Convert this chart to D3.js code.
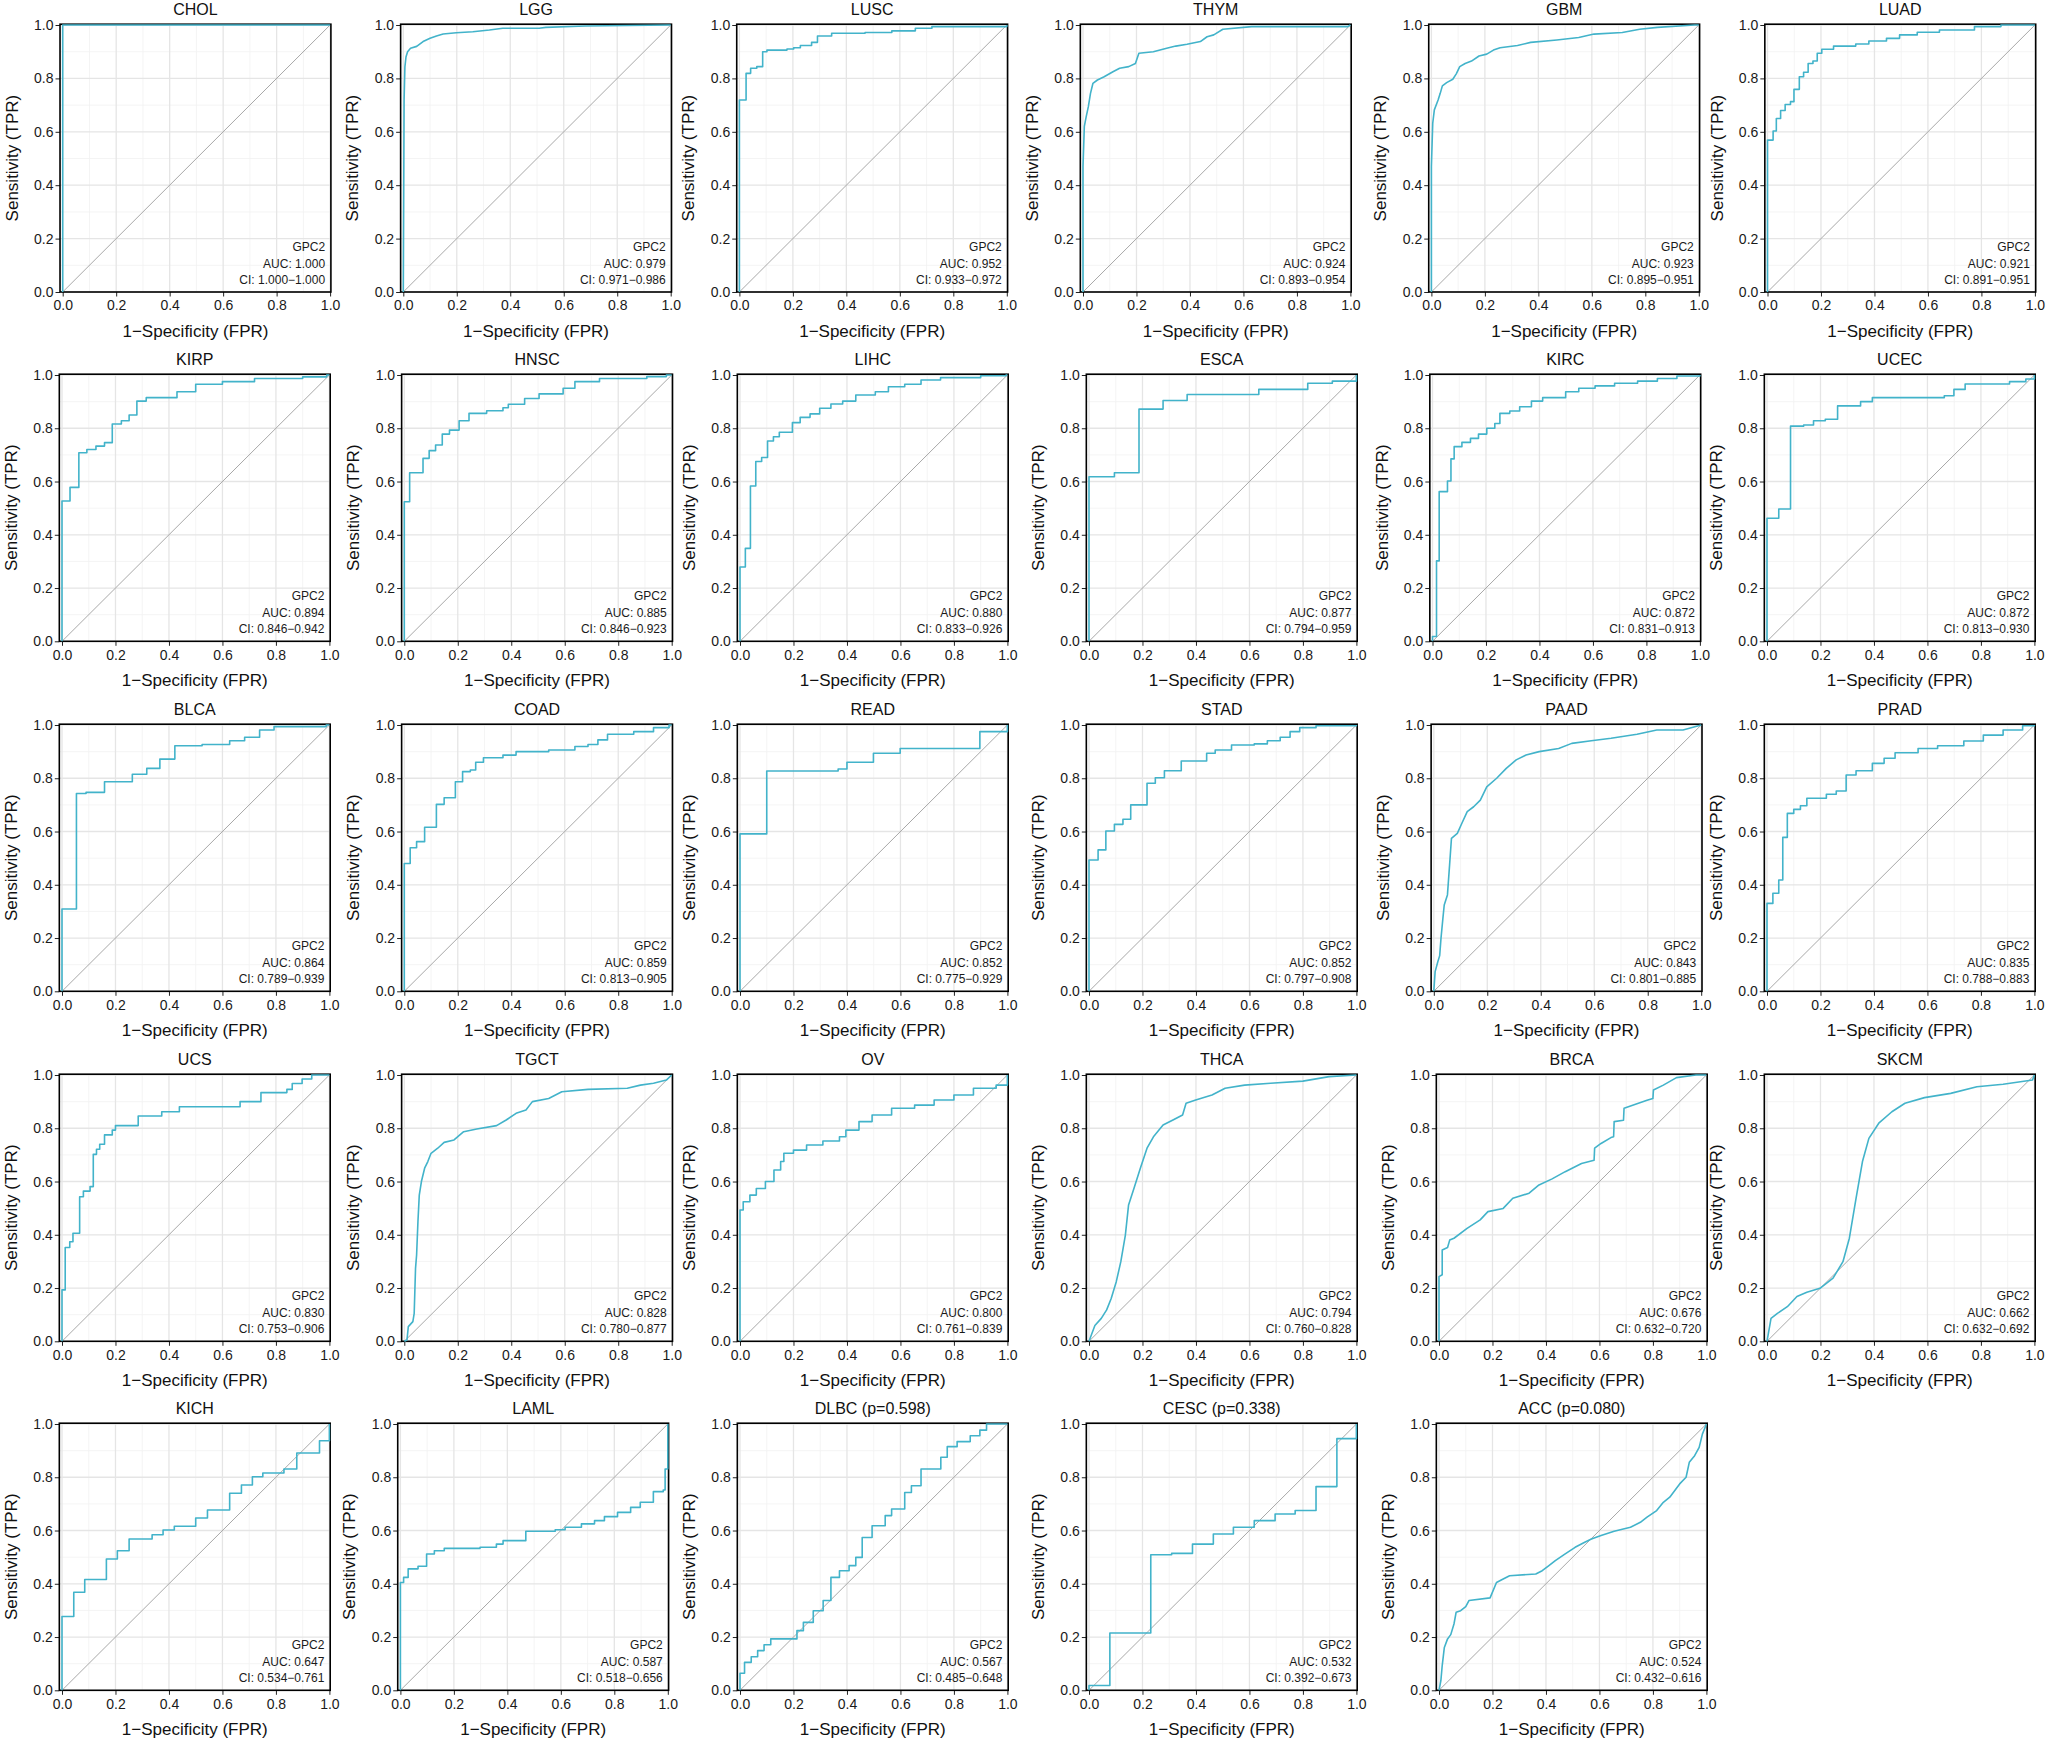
<!DOCTYPE html>
<html><head><meta charset="utf-8">
<script src="https://cdn.jsdelivr.net/npm/d3@7"></script>
<style>
body{margin:0;background:#fff}
svg{display:block}
text{font-family:"Liberation Sans",Arial,Helvetica,sans-serif}
</style>
</head><body>
<svg id="chart" width="2047" height="1739"></svg>
<script>
// ---------------- DATA ----------------
const cancers = ["CHOL","LGG","LUSC","THYM","GBM","LUAD",
                 "KIRP","HNSC","LIHC","ESCA","KIRC","UCEC",
                 "BLCA","COAD","READ","STAD","PAAD","PRAD",
                 "UCS","TGCT","OV","THCA","BRCA","SKCM",
                 "KICH","LAML","DLBC","CESC","ACC"];
const pCancers = ["DLBC","CESC","ACC"];
const pValues = ["0.598","0.338","0.080"];
const geneName = "GPC2";
const aucValues = [1.000,0.979,0.952,0.924,0.923,0.921,
                   0.894,0.885,0.880,0.877,0.872,0.872,
                   0.864,0.859,0.852,0.852,0.843,0.835,
                   0.830,0.828,0.800,0.794,0.676,0.662,
                   0.647,0.587,0.567,0.532,0.524];
const ciLower = [1.000,0.971,0.933,0.893,0.895,0.891,
                 0.846,0.846,0.833,0.794,0.831,0.813,
                 0.789,0.813,0.775,0.797,0.801,0.788,
                 0.753,0.780,0.761,0.760,0.632,0.632,
                 0.534,0.518,0.485,0.392,0.432];
const ciUpper = [1.000,0.986,0.972,0.954,0.951,0.951,
                 0.942,0.923,0.926,0.959,0.913,0.930,
                 0.939,0.905,0.929,0.908,0.885,0.883,
                 0.906,0.877,0.839,0.828,0.720,0.692,
                 0.761,0.656,0.648,0.673,0.616];
const tickValues = [0,0.2,0.4,0.6,0.8,1.0];
const minorValues = [0.1,0.3,0.5,0.7,0.9];

// ROC curves: [FPR, TPR]
const roc_CHOL = [[0,0],[0,1],[1,1]];
const roc_LGG = [[0,0],[0.003,0.72],[0.006,0.843],[0.01,0.88],[0.016,0.9],[0.027,0.913],[0.05,0.92],[0.074,0.938],[0.1,0.95],[0.124,0.959],[0.149,0.966],[0.198,0.971],[0.26,0.975],[0.322,0.981],[0.372,0.988],[0.508,0.988],[0.533,0.991],[0.68,0.996],[1,1]];
const roc_LUSC = [[0,0],[0,0.719],[0.025,0.819],[0.042,0.838],[0.065,0.844],[0.087,0.9],[0.103,0.906],[0.178,0.91],[0.203,0.915],[0.228,0.923],[0.27,0.935],[0.292,0.959],[0.345,0.969],[0.47,0.972],[0.57,0.978],[0.658,0.988],[0.72,0.994],[1,1]];
const roc_THYM = [[0,0],[0,0.47],[0.005,0.62],[0.012,0.657],[0.02,0.694],[0.028,0.744],[0.037,0.781],[0.054,0.794],[0.079,0.806],[0.112,0.825],[0.137,0.838],[0.171,0.844],[0.196,0.856],[0.209,0.894],[0.263,0.9],[0.313,0.913],[0.347,0.921],[0.389,0.928],[0.439,0.938],[0.464,0.956],[0.489,0.963],[0.523,0.984],[0.631,0.994],[0.99,0.994],[1,1]];
const roc_GBM = [[0,0],[0,0.47],[0.005,0.632],[0.011,0.682],[0.025,0.719],[0.033,0.744],[0.041,0.772],[0.057,0.784],[0.08,0.797],[0.093,0.817],[0.106,0.844],[0.126,0.856],[0.15,0.865],[0.178,0.884],[0.207,0.891],[0.232,0.906],[0.257,0.915],[0.322,0.923],[0.371,0.935],[0.469,0.944],[0.551,0.953],[0.608,0.966],[0.714,0.972],[0.779,0.984],[0.845,0.991],[0.984,1],[1,1]];
const roc_LUAD = [[0,0],[0,0.569],[0.021,0.603],[0.033,0.65],[0.049,0.68],[0.066,0.702],[0.086,0.713],[0.099,0.759],[0.119,0.806],[0.135,0.823],[0.152,0.856],[0.17,0.865],[0.186,0.894],[0.203,0.909],[0.247,0.921],[0.33,0.929],[0.379,0.94],[0.445,0.95],[0.494,0.963],[0.56,0.973],[0.643,0.981],[0.774,0.994],[0.873,1],[1,1]];
const roc_KIRP = [[0,0],[0,0.527],[0.03,0.578],[0.063,0.708],[0.093,0.72],[0.127,0.733],[0.159,0.746],[0.188,0.816],[0.222,0.828],[0.251,0.85],[0.28,0.902],[0.315,0.915],[0.43,0.937],[0.5,0.965],[0.6,0.975],[0.72,0.987],[0.9,0.993],[0.99,1],[1,1]];
const roc_HNSC = [[0,0],[0,0.524],[0.02,0.633],[0.07,0.687],[0.093,0.716],[0.117,0.737],[0.142,0.778],[0.169,0.793],[0.205,0.828],[0.242,0.856],[0.308,0.866],[0.369,0.877],[0.389,0.89],[0.45,0.912],[0.504,0.929],[0.594,0.95],[0.638,0.975],[0.73,0.987],[0.907,0.994],[0.98,1],[1,1]];
const roc_LIHC = [[0,0],[0,0.279],[0.02,0.349],[0.039,0.583],[0.059,0.675],[0.081,0.69],[0.103,0.752],[0.125,0.768],[0.147,0.785],[0.196,0.821],[0.225,0.841],[0.262,0.854],[0.298,0.875],[0.34,0.891],[0.384,0.902],[0.433,0.925],[0.506,0.937],[0.555,0.956],[0.616,0.965],[0.677,0.981],[0.75,0.99],[0.9,0.997],[0.995,1],[1,1]];
const roc_ESCA = [[0,0],[0,0.618],[0.095,0.633],[0.187,0.872],[0.277,0.904],[0.367,0.927],[0.635,0.946],[0.818,0.969],[0.91,0.977],[1,1]];
const roc_KIRC = [[0,0],[0,0.018],[0.015,0.302],[0.025,0.562],[0.056,0.602],[0.069,0.685],[0.081,0.731],[0.11,0.747],[0.142,0.762],[0.172,0.778],[0.203,0.8],[0.233,0.818],[0.252,0.856],[0.289,0.865],[0.326,0.881],[0.37,0.902],[0.412,0.915],[0.498,0.937],[0.547,0.95],[0.608,0.959],[0.681,0.969],[0.767,0.977],[0.841,0.987],[0.914,0.996],[1,1]];
const roc_UCEC = [[0,0],[0,0.462],[0.044,0.497],[0.088,0.808],[0.137,0.812],[0.174,0.828],[0.218,0.834],[0.264,0.884],[0.35,0.9],[0.394,0.915],[0.663,0.922],[0.699,0.946],[0.741,0.966],[0.907,0.975],[0.968,0.985],[1,1]];
const roc_BLCA = [[0,0],[0,0.309],[0.054,0.743],[0.09,0.747],[0.159,0.787],[0.263,0.815],[0.317,0.837],[0.366,0.872],[0.422,0.922],[0.524,0.927],[0.627,0.941],[0.683,0.954],[0.739,0.981],[0.793,0.994],[0.988,1],[1,1]];
const roc_COAD = [[0,0],[0,0.48],[0.022,0.539],[0.046,0.562],[0.076,0.616],[0.12,0.702],[0.149,0.727],[0.191,0.787],[0.218,0.825],[0.247,0.831],[0.267,0.86],[0.296,0.877],[0.369,0.887],[0.418,0.9],[0.54,0.906],[0.638,0.919],[0.687,0.927],[0.724,0.944],[0.76,0.965],[0.858,0.975],[0.932,0.99],[0.99,1],[1,1]];
const roc_READ = [[0,0],[0,0.591],[0.1,0.827],[0.367,0.835],[0.4,0.86],[0.499,0.894],[0.599,0.912],[0.897,0.975],[1,1]];
const roc_STAD = [[0,0],[0,0.493],[0.034,0.531],[0.063,0.602],[0.095,0.627],[0.127,0.646],[0.156,0.7],[0.217,0.781],[0.248,0.802],[0.282,0.828],[0.345,0.865],[0.44,0.894],[0.472,0.906],[0.533,0.925],[0.618,0.929],[0.667,0.941],[0.715,0.954],[0.752,0.975],[0.788,0.99],[0.849,0.997],[1,1]];
const roc_PAAD = [[0,0],[0.005,0.074],[0.015,0.111],[0.022,0.134],[0.027,0.2],[0.034,0.274],[0.039,0.324],[0.051,0.362],[0.059,0.474],[0.066,0.574],[0.088,0.593],[0.105,0.631],[0.125,0.675],[0.149,0.693],[0.174,0.718],[0.198,0.768],[0.235,0.8],[0.271,0.837],[0.308,0.869],[0.345,0.887],[0.394,0.9],[0.467,0.912],[0.516,0.931],[0.589,0.941],[0.663,0.95],[0.76,0.965],[0.834,0.981],[0.932,0.981],[1,1]];
const roc_PRAD = [[0,0],[0,0.33],[0.022,0.368],[0.044,0.418],[0.059,0.578],[0.076,0.668],[0.1,0.683],[0.125,0.697],[0.149,0.725],[0.222,0.74],[0.259,0.752],[0.296,0.812],[0.333,0.828],[0.394,0.856],[0.438,0.875],[0.479,0.896],[0.565,0.912],[0.638,0.922],[0.736,0.94],[0.809,0.962],[0.883,0.981],[0.956,0.997],[1,1]];
const roc_UCS = [[0,0],[0,0.193],[0.012,0.352],[0.029,0.374],[0.041,0.406],[0.066,0.543],[0.08,0.564],[0.105,0.581],[0.117,0.702],[0.129,0.721],[0.141,0.74],[0.159,0.775],[0.188,0.793],[0.2,0.81],[0.285,0.846],[0.373,0.862],[0.439,0.881],[0.666,0.9],[0.744,0.934],[0.841,0.946],[0.861,0.968],[0.898,0.985],[0.934,1],[1,1]];
const roc_TGCT = [[0,0],[0.01,0.005],[0.015,0.055],[0.032,0.074],[0.037,0.105],[0.042,0.274],[0.046,0.324],[0.051,0.449],[0.056,0.549],[0.064,0.6],[0.076,0.65],[0.088,0.675],[0.1,0.706],[0.125,0.725],[0.149,0.747],[0.186,0.756],[0.222,0.787],[0.271,0.797],[0.345,0.81],[0.381,0.831],[0.418,0.856],[0.455,0.869],[0.479,0.9],[0.54,0.912],[0.589,0.937],[0.687,0.946],[0.834,0.95],[0.883,0.962],[0.932,0.969],[0.98,0.981],[1,1]];
const roc_OV = [[0,0],[0,0.493],[0.012,0.524],[0.037,0.549],[0.061,0.574],[0.095,0.6],[0.127,0.643],[0.152,0.675],[0.164,0.706],[0.2,0.718],[0.249,0.737],[0.31,0.752],[0.372,0.768],[0.396,0.793],[0.445,0.825],[0.494,0.85],[0.567,0.875],[0.653,0.887],[0.726,0.906],[0.8,0.925],[0.873,0.95],[0.958,0.962],[1,1]];
const roc_THCA = [[0,0],[0.022,0.059],[0.046,0.086],[0.066,0.118],[0.083,0.161],[0.102,0.224],[0.119,0.299],[0.136,0.399],[0.148,0.512],[0.168,0.574],[0.192,0.65],[0.217,0.725],[0.241,0.768],[0.277,0.812],[0.314,0.831],[0.35,0.85],[0.363,0.894],[0.399,0.906],[0.46,0.925],[0.509,0.95],[0.582,0.962],[0.679,0.969],[0.8,0.977],[0.898,0.994],[1,1]];
const roc_BRCA = [[0,0],[0,0.243],[0.012,0.25],[0.012,0.343],[0.032,0.352],[0.04,0.38],[0.056,0.387],[0.105,0.424],[0.154,0.456],[0.183,0.487],[0.24,0.499],[0.276,0.537],[0.337,0.556],[0.374,0.587],[0.423,0.61],[0.472,0.637],[0.533,0.668],[0.58,0.68],[0.582,0.725],[0.606,0.743],[0.643,0.765],[0.653,0.768],[0.655,0.825],[0.69,0.83],[0.692,0.875],[0.778,0.905],[0.8,0.912],[0.802,0.944],[0.839,0.962],[0.888,0.99],[0.961,1],[1,1]];
const roc_SKCM = [[0,0],[0.015,0.086],[0.039,0.105],[0.076,0.13],[0.112,0.168],[0.149,0.184],[0.198,0.199],[0.247,0.237],[0.284,0.299],[0.308,0.387],[0.333,0.537],[0.357,0.675],[0.381,0.762],[0.418,0.819],[0.467,0.862],[0.516,0.894],[0.589,0.915],[0.687,0.931],[0.785,0.956],[0.883,0.965],[0.993,0.981],[1,1]];
const roc_KICH = [[0,0],[0,0.277],[0.044,0.368],[0.085,0.416],[0.166,0.493],[0.207,0.524],[0.251,0.568],[0.337,0.584],[0.378,0.602],[0.42,0.616],[0.5,0.647],[0.544,0.677],[0.627,0.74],[0.671,0.771],[0.712,0.802],[0.751,0.816],[0.83,0.831],[0.878,0.891],[0.963,0.937],[1,1]];
const roc_LAML = [[0,0],[0,0.405],[0.012,0.424],[0.029,0.456],[0.066,0.466],[0.098,0.512],[0.127,0.524],[0.164,0.533],[0.298,0.537],[0.359,0.549],[0.384,0.562],[0.469,0.597],[0.579,0.603],[0.616,0.612],[0.677,0.625],[0.726,0.637],[0.763,0.652],[0.812,0.668],[0.861,0.687],[0.897,0.706],[0.946,0.746],[0.983,0.752],[0.99,0.831],[1,1]];
const roc_DLBC = [[0,0],[0,0.064],[0.017,0.105],[0.042,0.126],[0.066,0.149],[0.09,0.171],[0.115,0.193],[0.213,0.224],[0.237,0.255],[0.274,0.299],[0.311,0.337],[0.34,0.424],[0.372,0.449],[0.408,0.468],[0.433,0.499],[0.457,0.574],[0.494,0.618],[0.543,0.656],[0.567,0.681],[0.616,0.743],[0.641,0.768],[0.677,0.831],[0.751,0.875],[0.775,0.915],[0.812,0.934],[0.861,0.956],[0.897,0.977],[0.922,1],[1,1]];
const roc_CESC = [[0,0],[0,0.018],[0.078,0.215],[0.231,0.222],[0.231,0.509],[0.309,0.514],[0.387,0.549],[0.465,0.587],[0.54,0.612],[0.618,0.637],[0.696,0.662],[0.771,0.675],[0.849,0.765],[0.927,0.945],[1,1]];
const roc_ACC = [[0,0],[0.007,0.036],[0.012,0.093],[0.02,0.161],[0.032,0.193],[0.044,0.209],[0.056,0.249],[0.064,0.293],[0.081,0.299],[0.1,0.314],[0.112,0.337],[0.191,0.347],[0.215,0.405],[0.24,0.418],[0.264,0.43],[0.362,0.437],[0.386,0.449],[0.411,0.468],[0.435,0.487],[0.472,0.512],[0.509,0.537],[0.545,0.556],[0.57,0.568],[0.606,0.581],[0.655,0.597],[0.716,0.612],[0.753,0.631],[0.778,0.65],[0.814,0.675],[0.839,0.706],[0.863,0.725],[0.9,0.775],[0.924,0.8],[0.936,0.856],[0.956,0.881],[0.973,0.912],[0.985,0.962],[0.995,0.987],[1,1]];

const rocCurves = [roc_CHOL,roc_LGG,roc_LUSC,roc_THYM,roc_GBM,roc_LUAD,
                   roc_KIRP,roc_HNSC,roc_LIHC,roc_ESCA,roc_KIRC,roc_UCEC,
                   roc_BLCA,roc_COAD,roc_READ,roc_STAD,roc_PAAD,roc_PRAD,
                   roc_UCS,roc_TGCT,roc_OV,roc_THCA,roc_BRCA,roc_SKCM,
                   roc_KICH,roc_LAML,roc_DLBC,roc_CESC,roc_ACC];
// curves traced as dense point sequences (drawn with straight segments)
const denseCurves = ["LGG","THYM","GBM","PAAD","TGCT","THCA","BRCA","SKCM","ACC"];

// ---------------- LAYOUT ----------------
const panelLeft  = [62.7,403.3,739.4,1083,1431.4,1767.5,
                    62,404.3,740,1089,1432.5,1767,
                    62,404.3,740,1089,1433.8,1767,
                    62,404.3,740,1089,1439,1767,
                    62,400.4,740,1089,1439];
const panelWidth = 267.4;
const rowTop    = [25,375,725,1075,1424];
const rowBottom = [292,641.3,991.3,1341.3,1690.3];
const nCols = 6;

const curveColor = "#42B3CA";
const fontFam = '"Liberation Sans", Arial, Helvetica, sans-serif';

const svg = d3.select("#chart");
svg.append("rect").attr("width",2047).attr("height",1739).attr("fill","#fff");

const fmt1 = d3.format(".1f");
const fmt3 = d3.format(".3f");

cancers.forEach((name, i) => {
  const row = Math.floor(i / nCols);
  const x0 = panelLeft[i];
  const xs = d3.scaleLinear().domain([0,1]).range([x0, x0 + panelWidth]);
  const ys = d3.scaleLinear().domain([0,1]).range([rowBottom[row], rowTop[row]]);
  const bl = xs(-0.01), br = xs(1.003), bt = ys(1) - 0.8, bb = ys(0);
  const g = svg.append("g");

  // grid
  g.selectAll(".vminor").data(minorValues).join("line")
    .attr("x1", d => xs(d)).attr("x2", d => xs(d)).attr("y1", bt).attr("y2", bb)
    .attr("stroke", "#F1F1F1").attr("stroke-width", 0.8);
  g.selectAll(".hminor").data(minorValues).join("line")
    .attr("y1", d => ys(d)).attr("y2", d => ys(d)).attr("x1", bl).attr("x2", br)
    .attr("stroke", "#F1F1F1").attr("stroke-width", 0.8);
  g.selectAll(".vmajor").data(tickValues).join("line")
    .attr("x1", d => xs(d)).attr("x2", d => xs(d)).attr("y1", bt).attr("y2", bb)
    .attr("stroke", "#E5E5E5").attr("stroke-width", 1.3);
  g.selectAll(".hmajor").data(tickValues).join("line")
    .attr("y1", d => ys(d)).attr("y2", d => ys(d)).attr("x1", bl).attr("x2", br)
    .attr("stroke", "#E5E5E5").attr("stroke-width", 1.3);

  // diagonal reference
  g.append("line").attr("x1", xs(0)).attr("y1", ys(0)).attr("x2", xs(1)).attr("y2", ys(1))
    .attr("stroke", "#A8A8A8").attr("stroke-width", 1);

  // axes
  const xAxis = d3.axisBottom(xs).tickValues(tickValues).tickFormat(fmt1).tickSize(4.5).tickPadding(4).tickSizeOuter(0);
  const yAxis = d3.axisLeft(ys).tickValues(tickValues).tickFormat(fmt1).tickSize(4.5).tickPadding(2).tickSizeOuter(0);
  const gx = g.append("g").attr("transform", `translate(0,${bb})`).call(xAxis);
  const gy = g.append("g").attr("transform", `translate(${bl},0)`).call(yAxis);
  [gx, gy].forEach(a => {
    a.select(".domain").remove();
    a.selectAll("line").attr("stroke", "#222").attr("stroke-width", 1);
    a.selectAll("text").attr("font-size", 14).attr("fill", "#1a1a1a").attr("font-family", fontFam);
  });

  // border
  g.append("rect").attr("x", bl).attr("y", bt).attr("width", br - bl).attr("height", bb - bt)
    .attr("fill", "none").attr("stroke", "#000").attr("stroke-width", 1.6);

  // ROC curve
  const line = d3.line().x(d => xs(d[0])).y(d => ys(d[1]))
    .curve(denseCurves.includes(name) ? d3.curveLinear : d3.curveStepAfter);
  g.append("path").datum(rocCurves[i]).attr("d", line)
    .attr("fill", "none").attr("stroke", curveColor).attr("stroke-width", 1.6)
    .attr("stroke-linejoin", "round");

  // title
  const pIdx = pCancers.indexOf(name);
  const title = pIdx >= 0 ? `${name} (p=${pValues[pIdx]})` : name;
  g.append("text").attr("x", (bl + br) / 2).attr("y", bt - 9)
    .attr("text-anchor", "middle").attr("font-size", 16).attr("fill", "#111").text(title);

  // axis titles
  g.append("text").attr("x", (bl + br) / 2).attr("y", bb + 44.5)
    .attr("text-anchor", "middle").attr("font-size", 17).attr("fill", "#111").text("1\u2212Specificity (FPR)");
  g.append("text").attr("transform", `translate(${xs(0) - 45},${(bt + bb) / 2}) rotate(-90)`)
    .attr("text-anchor", "middle").attr("font-size", 17).attr("fill", "#111").text("Sensitivity (TPR)");

  // annotation
  const ann = [geneName, `AUC: ${fmt3(aucValues[i])}`, `CI: ${fmt3(ciLower[i])}\u2212${fmt3(ciUpper[i])}`];
  const offs = [41, 24.5, 8];
  ann.forEach((t, k) => {
    g.append("text").attr("x", xs(1) - 5).attr("y", bb - offs[k])
      .attr("text-anchor", "end").attr("font-size", 12).attr("fill", "#1a1a1a").text(t);
  });
});
</script>
</body></html>
